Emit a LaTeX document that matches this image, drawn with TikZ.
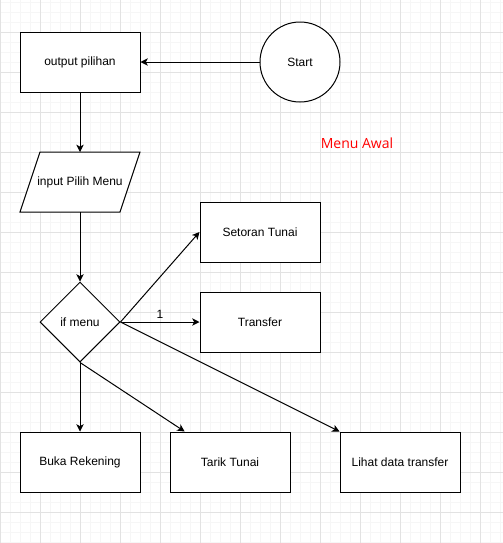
\documentclass[tikz,border=0pt]{standalone}
\usepackage{fontspec}
\setmainfont{Liberation Sans}
\newfontfamily\redfont{Open Sans}
\usetikzlibrary{shapes.geometric,arrows.meta,calc}
\definecolor{gridminor}{HTML}{F6F6F6}
\definecolor{gridmajor}{HTML}{E2E2E2}
\definecolor{menured}{HTML}{FF0000}
\tikzset{
  box/.style={draw=black, line width=0.75pt, fill=white, minimum width=90pt, minimum height=45pt, inner sep=0pt, font=\fontsize{9}{11}\selectfont},
  txt/.style={inner sep=0pt, font=\fontsize{9}{11}\selectfont},
  conn/.style={draw=black, line width=0.75pt, -{Stealth[length=5.5pt, width=5.5pt, inset=1.5pt]}},
}
\begin{document}
\begin{tikzpicture}[x=0.75pt, y=-0.75pt]
\useasboundingbox (0,0) rectangle (503,543);
\fill[white] (0,0) rectangle (503,543);
% grid
\foreach \x in {0,10,...,500} \draw[gridminor, line width=0.75pt] (\x,0) -- (\x,543);
\foreach \y in {2,12,...,542} \draw[gridminor, line width=0.75pt] (0,\y) -- (503,\y);
\foreach \x in {0,40,...,480} \draw[gridmajor, line width=0.75pt] (\x,0) -- (\x,543);
\foreach \y in {32,72,...,512} \draw[gridmajor, line width=0.75pt] (0,\y) -- (503,\y);

% nodes
\node[box] (out) at (80,62) {output pilihan};
\node[draw=black, line width=0.75pt, fill=white, circle, minimum size=60pt, inner sep=0pt, font=\fontsize{9}{11}\selectfont] (start) at (300,62) {Start};
\filldraw[draw=black, fill=white, line width=0.75pt] (40,152) -- (140,152) -- (120,212) -- (20,212) -- cycle;
\node[txt] (inp) at (80,182) {input Pilih Menu};
\coordinate (inpT) at (80,152);
\coordinate (inpB) at (80,212);
\node[draw=black, line width=0.75pt, fill=white, diamond, aspect=1, minimum width=60pt, minimum height=60pt, inner sep=0pt, font=\fontsize{9}{11}\selectfont] (dia) at (80,322) {if menu};
\node[box] (setor) at (260,232) {Setoran Tunai};
\node[box] (trans) at (260,322) {Transfer};
\node[box] (buka) at (80,462) {Buka Rekening};
\node[box] (tarik) at (230,462) {Tarik Tunai};
\node[box] (lihat) at (400,462) {Lihat data transfer};
\node[inner sep=0pt, text=menured, font=\redfont\fontsize{10.5}{12}\selectfont] (awal) at (357,143) {Menu Awal};
\coordinate (tarikT) at ($(tarik.north west)!0.125!(tarik.north east)$);

% connectors
\draw[conn] (start.west) -- (out.east);
\draw[conn] (out.south) -- (inpT);
\draw[conn] (inpB) -- (dia.north);
\draw[conn] (dia.east) -- (setor.west);
\draw[conn] (dia.east) -- node[above, txt, yshift=2.5pt] (one) {1} (trans.west);
\draw[conn] (dia.east) -- (lihat.north west);
\draw[conn] (dia.south) -- (buka.north);
\draw[conn] (dia.south) -- (tarikT);
\end{tikzpicture}
\end{document}
